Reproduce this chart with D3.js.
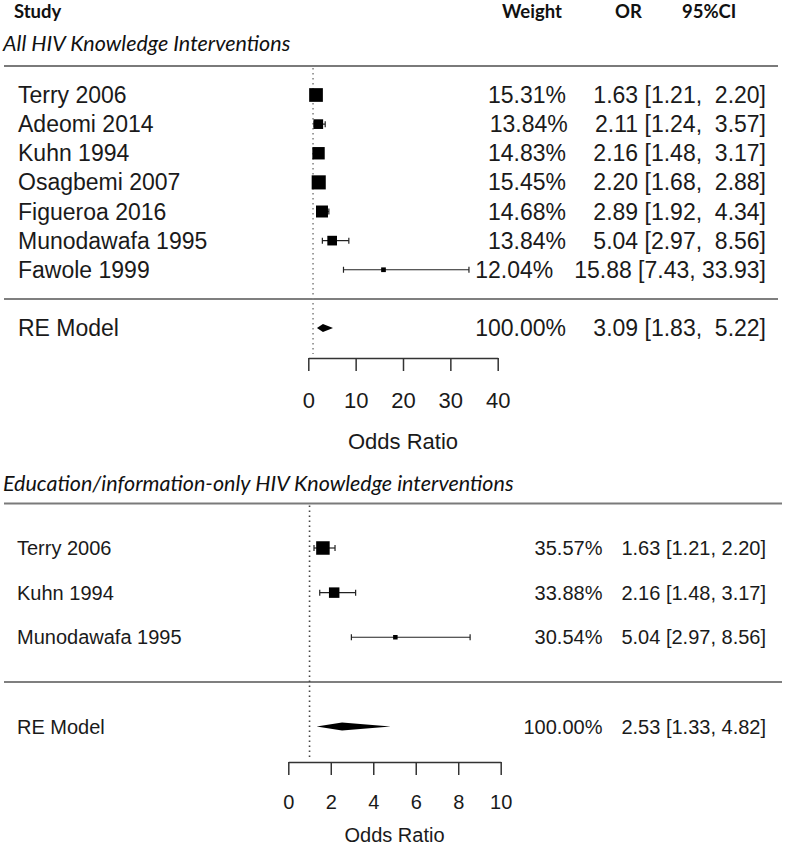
<!DOCTYPE html>
<html>
<head>
<meta charset="utf-8">
<script src="https://cdn.jsdelivr.net/npm/d3@7"></script>
<style>
  html, body { margin: 0; padding: 0; background: #fff; }
  svg { display: block; }
</style>
</head>
<body>
<svg id="chart" width="785" height="848"></svg>
<script>
// ---------- data ----------
const headerLabels = ["Study", "Weight", "OR", "95%CI"];

const topTitle = "All HIV Knowledge Interventions";
const topStudies = ["Terry 2006", "Adeomi 2014", "Kuhn 1994", "Osagbemi 2007", "Figueroa 2016", "Munodawafa 1995", "Fawole 1999"];
const topWeights = [15.31, 13.84, 14.83, 15.45, 14.68, 13.84, 12.04];
const topOR      = [1.63, 2.11, 2.16, 2.20, 2.89, 5.04, 15.88];
const topLower   = [1.21, 1.24, 1.48, 1.68, 1.92, 2.97, 7.43];
const topUpper   = [2.20, 3.57, 3.17, 2.88, 4.34, 8.56, 33.93];
const topSummary = [100.00, 3.09, 1.83, 5.22]; // weight, OR, lower, upper
const topTicks   = [0, 10, 20, 30, 40];

const botTitle = "Education/information-only HIV Knowledge interventions";
const botStudies = ["Terry 2006", "Kuhn 1994", "Munodawafa 1995"];
const botWeights = [35.57, 33.88, 30.54];
const botOR      = [1.63, 2.16, 5.04];
const botLower   = [1.21, 1.48, 2.97];
const botUpper   = [2.20, 3.17, 8.56];
const botSummary = [100.00, 2.53, 1.33, 4.82];
const botTicks   = [0, 2, 4, 6, 8, 10];

const summaryLabel = "RE Model";
const axisTitle = "Odds Ratio";
const refValue = 1;

// ---------- drawing ----------
const svg = d3.select("#chart");
const dataFont = "'Liberation Sans', Arial, sans-serif";
const headFont = "Lato, 'Open Sans', sans-serif";

// header
const head = svg.append("g").attr("font-family", headFont).attr("font-weight", "bold")
  .attr("font-size", 18.5).attr("fill", "#111");
head.append("text").attr("x", 14).attr("y", 18).text(headerLabels[0]);
head.append("text").attr("x", 502).attr("y", 18).text(headerLabels[1]);
head.append("text").attr("x", 615).attr("y", 18).text(headerLabels[2]);
head.append("text").attr("x", 682).attr("y", 18).text(headerLabels[3]);

function drawPanel(cfg) {
  const g = svg.append("g");
  const k = cfg.studies.length;
  const x = d3.scaleLinear().domain(cfg.domain).range(cfg.xRange);
  const y = d3.scaleLinear().domain([-1, k]).range(cfg.yRange); // row k = first study, -1 = summary

  // title
  g.append("text").attr("x", 3).attr("y", cfg.titleY)
    .attr("font-family", headFont).attr("font-style", "italic").attr("font-size", 21.5)
    .attr("fill", "#111").text(cfg.title);

  // rules
  g.append("line").attr("x1", 4).attr("x2", cfg.ruleRight)
    .attr("y1", y(k + 1)).attr("y2", y(k + 1))
    .attr("stroke", "#7a7a7a").attr("stroke-width", 2);
  g.append("line").attr("x1", 4).attr("x2", cfg.ruleRight)
    .attr("y1", y(0)).attr("y2", y(0))
    .attr("stroke", "#555").attr("stroke-width", 1.5);

  // reference dotted line
  g.append("line").attr("x1", x(refValue)).attr("x2", x(refValue))
    .attr("y1", y(k + 1) + 2).attr("y2", cfg.axisY - 4)
    .attr("stroke", cfg.dotColor).attr("stroke-width", 1.6)
    .attr("stroke-dasharray", "1.6,3.4");

  const rows = cfg.studies.map((s, i) => ({
    name: s, w: cfg.weights[i], or: cfg.or[i], lo: cfg.lower[i], hi: cfg.upper[i], row: k - i
  }));

  // square sizes from weights (range 0.5..1.5 of unit)
  const wMin = d3.min(cfg.weights), wMax = d3.max(cfg.weights);
  const psize = d3.scaleLinear().domain([wMin, wMax]).range([0.5, 1.5]);

  // CI lines
  const ci = g.append("g").attr("stroke", "#222").attr("stroke-width", 1.2);
  rows.forEach(r => {
    const yy = y(r.row);
    ci.append("line").attr("x1", x(r.lo)).attr("x2", x(r.hi)).attr("y1", yy).attr("y2", yy);
    ci.append("line").attr("x1", x(r.lo)).attr("x2", x(r.lo)).attr("y1", yy - 3).attr("y2", yy + 3);
    ci.append("line").attr("x1", x(r.hi)).attr("x2", x(r.hi)).attr("y1", yy - 3).attr("y2", yy + 3);
  });
  // squares
  g.append("g").selectAll("rect").data(rows).join("rect")
    .attr("x", d => x(d.or) - psize(d.w) * cfg.unit / 2)
    .attr("y", d => y(d.row) - psize(d.w) * cfg.unit / 2)
    .attr("width", d => psize(d.w) * cfg.unit)
    .attr("height", d => psize(d.w) * cfg.unit)
    .attr("fill", "#000");

  // summary diamond
  const sy = y(-1);
  const [sw, sor, slo, shi] = cfg.summary;
  g.append("polygon")
    .attr("points", [[x(slo), sy], [x(sor), sy - 4], [x(shi), sy], [x(sor), sy + 4]].map(p => p.join(",")).join(" "))
    .attr("fill", "#000");

  // text columns
  const txt = g.append("g").attr("font-family", dataFont).attr("font-size", cfg.fs).attr("fill", "#1a1a1a");
  const allRows = rows.concat([{ name: summaryLabel, w: sw, or: sor, lo: slo, hi: shi, row: -1 }]);
  const maxHi = d3.max(allRows, d => d.hi.toFixed(2).length);
  const maxOr = d3.max(allRows, d => d.or.toFixed(2).length);
  const pad = (v, n) => { const s = v.toFixed(2); return " ".repeat(Math.max(0, n - s.length)) + s; };
  allRows.forEach(r => {
    const yy = y(r.row);
    txt.append("text").attr("x", cfg.labelX).attr("y", yy).attr("dy", "0.35em").text(r.name);
    const orT = txt.append("text").attr("x", cfg.rightX).attr("y", yy).attr("dy", "0.35em")
      .attr("text-anchor", "end").attr("xml:space", "preserve").style("white-space", "pre")
      .text(`${pad(r.or, maxOr)} [${r.lo.toFixed(2)}, ${pad(r.hi, maxHi)}]`);
    const wOR = orT.node().getComputedTextLength();
    txt.append("text").attr("x", cfg.rightX - wOR - cfg.gap).attr("y", yy).attr("dy", "0.35em")
      .attr("text-anchor", "end").text(r.w.toFixed(2) + "%");
  });

  // axis
  const axis = d3.axisBottom(x).tickValues(cfg.ticks).tickSize(13).tickSizeOuter(0)
    .tickPadding(cfg.tickPad).tickFormat(d3.format("d"));
  const ag = g.append("g").attr("transform", `translate(0,${cfg.axisY})`).call(axis);
  ag.select(".domain").attr("stroke", "#333").attr("stroke-width", 1.5);
  ag.selectAll(".tick line").attr("stroke", "#333").attr("stroke-width", 1.5);
  ag.selectAll(".tick text").attr("font-family", dataFont).attr("font-size", cfg.axisFs).attr("fill", "#1a1a1a");

  g.append("text").attr("x", (cfg.xRange[0] + cfg.xRange[1]) / 2).attr("y", cfg.axisTitleY)
    .attr("text-anchor", "middle").attr("font-family", dataFont).attr("font-size", cfg.axisFs)
    .attr("fill", "#1a1a1a").text(axisTitle);
}

drawPanel({
  title: topTitle, titleY: 51,
  studies: topStudies, weights: topWeights, or: topOR, lower: topLower, upper: topUpper,
  summary: topSummary, ticks: topTicks,
  domain: [0, 40], xRange: [308.3, 497.7], yRange: [328, 95],
  axisY: 358, tickPad: 21, axisTitleY: 449, axisFs: 22,
  ruleRight: 778, dotColor: "#888", unit: 9.4, fs: 23, labelX: 18, rightX: 766, gap: 21
});

drawPanel({
  title: botTitle, titleY: 491,
  studies: botStudies, weights: botWeights, or: botOR, lower: botLower, upper: botUpper,
  summary: botSummary, ticks: botTicks,
  domain: [0, 10], xRange: [288.3, 500.7], yRange: [726.5, 548],
  axisY: 762, tickPad: 20, axisTitleY: 842, axisFs: 20,
  ruleRight: 782, dotColor: "#444", unit: 9, fs: 20, labelX: 17, rightX: 766, gap: 19
});
</script>
</body>
</html>
